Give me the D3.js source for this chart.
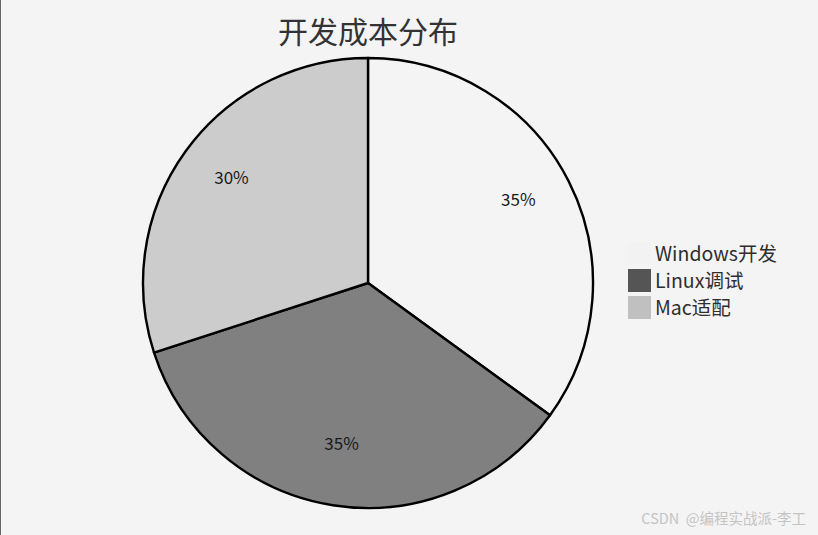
<!DOCTYPE html>
<html>
<head>
<meta charset="utf-8">
<script src="https://cdn.jsdelivr.net/npm/d3@7"></script>
<style>
  html, body { margin: 0; padding: 0; background: #f4f4f4; }
  svg { display: block; }
  text { font-family: "Noto Sans CJK SC", "Noto Sans", sans-serif; }
</style>
</head>
<body>
<svg id="chart" width="818" height="535"></svg>
<script>
// data
const categories = ["Windows开发", "Linux调试", "Mac适配"];
const shares = [35, 35, 30];
const sliceColors = ["#f4f4f4", "#808080", "#cccccc"];
const legendColors = ["#f2f2f2", "#555555", "#c0c0c0"];
const title = "开发成本分布";
const watermark = "CSDN  @编程实战派-李工";

const W = 818, H = 535;
const CX = 368, CY = 283, R = 225;

const SVG = d3.select("#chart");

SVG.append("rect")
  .attr("width", W)
  .attr("height", H)
  .attr("fill", "#f4f4f4");

// thin left border
SVG.append("line")
  .attr("x1", 0.5).attr("x2", 0.5)
  .attr("y1", 0).attr("y2", H)
  .attr("stroke", "#666")
  .attr("stroke-width", 1);

SVG.append("text")
  .attr("x", CX)
  .attr("y", 43)
  .attr("text-anchor", "middle")
  .style("font-size", "30px")
  .style("fill", "#333")
  .text(title);

const pie = d3.pie().sort(null).value((d) => d);
const arcs = pie(shares);
const arc = d3.arc().innerRadius(0).outerRadius(R);
const labelArc = d3.arc().innerRadius(R * 0.75).outerRadius(R * 0.75);

const PIE_G = SVG.append("g").attr("transform", `translate(${CX},${CY})`);

PIE_G.selectAll("path")
  .data(arcs)
  .join("path")
  .attr("d", arc)
  .attr("fill", (d, i) => sliceColors[i])
  .attr("stroke", "#000")
  .attr("stroke-width", 2.4)
  .attr("stroke-linejoin", "round");

PIE_G.selectAll("text")
  .data(arcs)
  .join("text")
  .attr("transform", (d) => {
    const [x, y] = labelArc.centroid(d);
    return `translate(${x},${y - 6})`;
  })
  .attr("text-anchor", "middle")
  .attr("dy", "0.35em")
  .style("font-size", "17px")
  .style("fill", "#1a1a1a")
  .text((d) => `${d.data}%`);

// legend
const LEGEND_G = SVG.append("g").attr("transform", "translate(628,242)");
const legendRow = LEGEND_G.selectAll("g")
  .data(categories)
  .join("g")
  .attr("transform", (d, i) => `translate(0,${i * 27})`);

legendRow.append("rect")
  .attr("width", 23)
  .attr("height", 23)
  .attr("fill", (d, i) => legendColors[i]);

legendRow.append("text")
  .attr("x", 27)
  .attr("y", 12)
  .attr("dy", "0.35em")
  .style("font-size", "19.5px")
  .style("fill", "#2e2e2e")
  .text((d) => d);

SVG.append("text")
  .attr("x", 806)
  .attr("y", 524)
  .attr("text-anchor", "end")
  .style("font-size", "14.5px")
  .style("fill", "#c4c4c4")
  .style("white-space", "pre")
  .text(watermark);
</script>
</body>
</html>
